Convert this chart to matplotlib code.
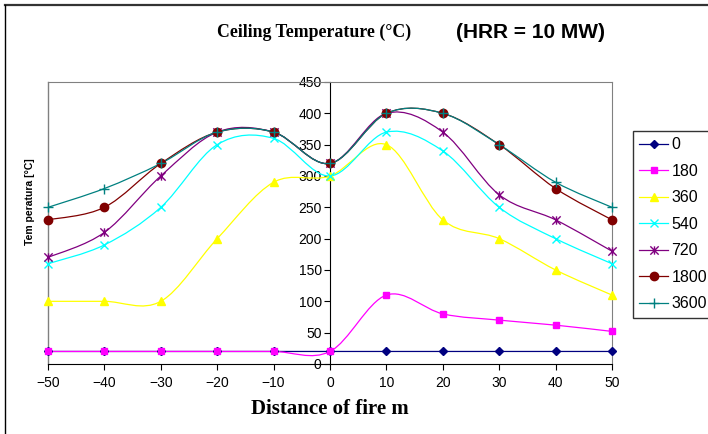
import numpy as np
import matplotlib
matplotlib.use("Agg")
import matplotlib.pyplot as plt
from matplotlib.path import Path
from matplotlib.patches import PathPatch
from matplotlib.lines import Line2D

# distance from fire (m)
distance = [-50, -40, -30, -20, -10, 0, 10, 20, 30, 40, 50]

# ceiling temperature per time step (s)
t_0 = [20, 20, 20, 20, 20, 20, 20, 20, 20, 20, 20]
t_180 = [20, 20, 20, 20, 20, 20, 110, 80, 70, 62, 52]
t_360 = [100, 100, 100, 200, 290, 300, 350, 230, 200, 150, 110]
t_540 = [160, 190, 250, 350, 360, 300, 370, 340, 250, 200, 160]
t_720 = [170, 210, 300, 370, 370, 320, 400, 370, 270, 230, 180]
t_1800 = [230, 250, 320, 370, 370, 320, 400, 400, 350, 280, 230]
t_3600 = [250, 280, 320, 370, 370, 320, 400, 400, 350, 290, 250]

series_labels = ["0", "180", "360", "540", "720", "1800", "3600"]
series_values = [t_0, t_180, t_360, t_540, t_720, t_1800, t_3600]

# Excel style star: an x with a vertical bar through it
star = Path([(-1, -1), (1, 1), (-1, 1), (1, -1), (0, -1), (0, 1)],
            [Path.MOVETO, Path.LINETO, Path.MOVETO, Path.LINETO, Path.MOVETO, Path.LINETO])

styles = [
    dict(color="#000080", marker="D", ms=4),
    dict(color="#FF00FF", marker="s", ms=5),
    dict(color="#FFFF00", marker="^", ms=6),
    dict(color="#00FFFF", marker="x", ms=6),
    dict(color="#800080", marker=star, ms=6),
    dict(color="#800000", marker="o", ms=6),
    dict(color="#008080", marker="+", ms=7),
]


def smooth_path(xs, ys):
    """Excel-like smoothed line: cubic Bezier through every point."""
    pts = np.column_stack([xs, ys]).astype(float)
    n = len(pts)
    verts = [pts[0]]
    codes = [Path.MOVETO]
    for i in range(n - 1):
        p0 = pts[max(i - 1, 0)]
        p1 = pts[i]
        p2 = pts[i + 1]
        p3 = pts[min(i + 2, n - 1)]
        verts += [p1 + (p2 - p0) / 6, p2 - (p3 - p1) / 6, p2]
        codes += [Path.CURVE4] * 3
    return Path(verts, codes)


plt.rcParams["font.family"] = ["Liberation Sans", "DejaVu Sans"]

fig = plt.figure(figsize=(7.08, 4.34), dpi=100)
ax = fig.add_axes([0.0678, 0.1613, 0.7966, 0.6498])

handles = []
for label, vals, st in zip(series_labels, series_values, styles):
    ax.add_patch(PathPatch(smooth_path(distance, vals), fill=False,
                           edgecolor=st["color"], lw=0.9, zorder=2))
    ax.plot(distance, vals, linestyle="none", marker=st["marker"], ms=st["ms"],
            color=st["color"], mec=st["color"], mew=1.0, zorder=3, clip_on=False)
    handles.append(Line2D([], [], color=st["color"], lw=0.9, marker=st["marker"],
                          ms=st["ms"], mew=1.0, label=label))

ax.set_xlim(-50, 50)
ax.set_ylim(0, 450)
ax.set_xticks(range(-50, 51, 10))
ax.set_yticks(range(0, 451, 50))

ax.spines["left"].set_position(("data", 0))
ax.spines["left"].set_color("black")
ax.spines["bottom"].set_color("black")
for side in ("top", "right"):
    ax.spines[side].set_color("#808080")
ax.axvline(-50, color="#808080", lw=1.0, clip_on=False, zorder=1)
ax.tick_params(direction="out", length=4, width=0.8, labelsize=10, colors="black")
ax.tick_params(axis="x", pad=5)
ax.tick_params(axis="y", pad=2)

ax.set_xlabel("Distance of fire m", family="Liberation Serif", fontweight="bold",
              fontsize=15, labelpad=6)
fig.text(0.042, 0.535, "Tem peratura [°C]", rotation=90, ha="center", va="center",
         fontsize=7.5, fontweight="bold")

fig.text(0.306, 0.925, "Ceiling Temperature (°C)", family="Liberation Serif",
         fontweight="bold", fontsize=12.8, ha="left", va="center")
fig.text(0.855, 0.925, "(HRR = 10 MW)", fontweight="bold", fontsize=15,
         ha="right", va="center")

leg = fig.legend(handles=handles, loc="upper left", bbox_to_anchor=(0.894, 0.698),
                 fontsize=11.5, frameon=True, fancybox=False, borderpad=0.4,
                 labelspacing=0.72, handlelength=1.8, handletextpad=0.2,
                 borderaxespad=0)
leg.get_frame().set_edgecolor("black")
leg.get_frame().set_linewidth(1.0)

# outer chart border (top and left edges visible in the crop)
fig.add_artist(Line2D([0.007, 1.0], [0.988, 0.988], transform=fig.transFigure,
                      color="#333333", lw=1.6))
fig.add_artist(Line2D([0.007, 0.007], [0.0, 0.988], transform=fig.transFigure,
                      color="black", lw=1.0))

fig.savefig("out.png", dpi=100)
